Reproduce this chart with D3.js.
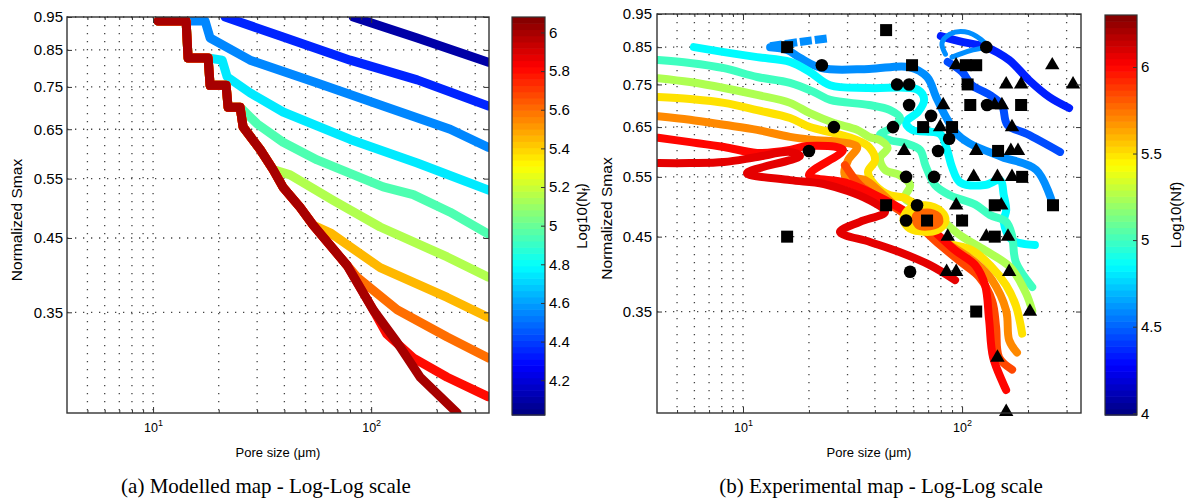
<!DOCTYPE html>
<html>
<head>
<meta charset="utf-8">
<script src="https://cdn.jsdelivr.net/npm/d3@7"></script>
<style>
  body { margin: 0; background: #fff; }
  svg { display: block; }
  text { font-family: "Liberation Sans", Arial, sans-serif; fill: #000; }
  .tick text { font-family: "Liberation Sans", Arial, sans-serif; font-size: 15px; }
  .xmajor .tick text { font-size: 12.5px; }
  .tick line { stroke: #333; }
  .grid { stroke: #444; stroke-width: 1.3; stroke-dasharray: 1.3 6.7; }
  .caption { font-family: "Liberation Serif", "Times New Roman", serif; font-size: 21px; }
</style>
</head>
<body>
<svg width="1187" height="501"></svg>
<script>
// shared axis values
var xMajor = [10, 100];
var xMinor = [5, 6, 7, 8, 9, 20, 30, 40, 50, 60, 70, 80, 90, 200, 300];
var yTicks = [0.35, 0.45, 0.55, 0.65, 0.75, 0.85, 0.95];

// (a) modelled map: common staircase edge, then one tail per level
var modelValues = [4.1, 4.35, 4.55, 4.75, 4.95, 5.15, 5.45, 5.6, 5.8, 6.0];
var modelBarTicks = [4.2, 4.4, 4.6, 4.8, 5, 5.2, 5.4, 5.6, 5.8, 6];
var modelEnvelope = [[10.54, 0.937], [14.17, 0.937], [14.47, 0.827], [17.88, 0.827], [18.26, 0.754],
  [21.62, 0.754], [22.08, 0.700], [25.07, 0.700], [25.87, 0.655], [30.97, 0.607], [35.52, 0.567],
  [39.47, 0.534], [47.24, 0.499], [54.2, 0.470], [77.62, 0.410], [102.1, 0.353], [131.6, 0.316],
  [167.8, 0.281], [248, 0.249]];
var modelSplit = [0, 0, 2, 4, 8, 11, 14, 15, 16, 19];
var modelTails = [
  [[82.7, 0.95], [162.6, 0.885], [345, 0.815]],
  [[21.39, 0.95], [39.47, 0.888], [80.12, 0.821], [162.6, 0.768], [345, 0.703]],
  [[17.32, 0.937], [18.26, 0.885], [27.86, 0.821], [56.54, 0.760], [113.5, 0.703], [230.3, 0.650], [345, 0.611]],
  [[20.73, 0.821], [21.85, 0.776], [27.86, 0.735], [39.47, 0.689], [80.12, 0.628], [162.6, 0.580], [345, 0.529]],
  [[30.0, 0.662], [39.47, 0.622], [56.54, 0.586], [113.5, 0.535], [155.9, 0.521], [230.3, 0.491], [345, 0.456]],
  [[42.5, 0.557], [66.95, 0.511], [110, 0.467], [223.2, 0.422], [345, 0.394]],
  [[64.87, 0.458], [110, 0.407], [223.2, 0.368], [345, 0.344]],
  [[86.28, 0.394], [131.6, 0.353], [223.2, 0.322], [345, 0.300]],
  [[118, 0.325], [155.9, 0.300], [223.2, 0.281], [345, 0.263]],
  []
];

// (b) experimental map: contour lines
var expBarTicks = [4, 4.5, 5, 5.5, 6];
var expNavy = [[80, 0.882], [100, 0.865], [129, 0.85], [164, 0.814], [202, 0.761], [250, 0.719], [308, 0.693]];
var expBlueInner = [[86, 0.809], [100, 0.782], [111, 0.748], [134, 0.724], [152, 0.70], [161, 0.655], [198, 0.635], [280, 0.598]];
var expBlueLoop = [[84, 0.83], [81, 0.862], [88, 0.888], [103, 0.895], [122, 0.872], [129, 0.853], [109, 0.84], [90, 0.822]];
var expBlueOuter = [[13.3, 0.85], [15.9, 0.842], [18.2, 0.82], [22.9, 0.792], [37.6, 0.79], [57.3, 0.795], [69.2, 0.769],
  [76.1, 0.719], [84.5, 0.672], [93.9, 0.637], [107.6, 0.616], [152, 0.588], [218, 0.563], [260, 0.501]];
var expBlueDash = [[13.3, 0.853], [18.2, 0.865], [24.7, 0.876]];
var expCyan = [[5.97, 0.85], [8.19, 0.836], [11.6, 0.822], [16.4, 0.809], [20.2, 0.782], [25, 0.748], [37.6, 0.741],
  [63, 0.736], [67.1, 0.712], [63, 0.684], [55.5, 0.661], [59.1, 0.644], [79.4, 0.635], [85.4, 0.602], [90, 0.568],
  [97.9, 0.540], [127, 0.535], [149, 0.544], [155, 0.517], [159, 0.492], [155, 0.473], [169, 0.445], [215, 0.4375]];
var expTeal = [[4.1, 0.814], [5.73, 0.806], [8.19, 0.792], [11.6, 0.769], [16.4, 0.754], [21.1, 0.731], [25, 0.712],
  [37.6, 0.700], [46.9, 0.688], [52.1, 0.670], [48.4, 0.650], [42.2, 0.633], [46.9, 0.622], [54.9, 0.616], [64.3, 0.602],
  [68, 0.572], [75.3, 0.535], [88, 0.517], [115, 0.501], [134, 0.484], [159, 0.473], [169, 0.452], [176, 0.413], [209, 0.380]];
var expGreen = [[4.1, 0.766], [5.73, 0.756], [8.19, 0.741], [11.6, 0.724], [16.4, 0.705], [20.2, 0.681], [26, 0.659],
  [33.2, 0.644], [37.6, 0.629], [42.2, 0.622], [45.7, 0.606], [42.2, 0.586], [44.5, 0.563], [52.1, 0.553], [57.9, 0.535],
  [54.9, 0.512], [71.4, 0.492], [98, 0.452], [127, 0.430], [166, 0.406], [196, 0.372], [209, 0.351]];
var expYellow = [[4.1, 0.719], [5.73, 0.714], [8.19, 0.705], [11.6, 0.688], [16.4, 0.670], [20.2, 0.650], [26, 0.637],
  [33.2, 0.622], [37.6, 0.608], [40.1, 0.582], [37.2, 0.559], [40.1, 0.535], [46.9, 0.517], [54.9, 0.512], [68, 0.484],
  [79.4, 0.445], [111, 0.430], [134, 0.409], [159, 0.382], [176, 0.357], [188, 0.325]];
var expOrange = [[4.1, 0.674], [5.73, 0.666], [8.19, 0.655], [11.6, 0.644], [16.4, 0.629], [21.8, 0.622], [27.7, 0.618],
  [33.2, 0.608], [30.2, 0.582], [29.2, 0.553], [36.1, 0.544], [42.2, 0.523], [52.1, 0.492], [71.4, 0.457], [88, 0.4375],
  [116, 0.412], [137, 0.389], [159, 0.351], [164, 0.318], [178, 0.305]];
var expRedOrange = [[29.2, 0.572], [34.2, 0.535], [42.2, 0.512], [57.9, 0.479], [79.4, 0.4375], [100, 0.412],
  [119.6, 0.393], [137.1, 0.363], [143, 0.332], [147.6, 0.300], [169.2, 0.288]];
var expRed = [[4.1, 0.627], [5.73, 0.618], [8.19, 0.608], [11.6, 0.596], [16.4, 0.602], [19.6, 0.610], [28.6, 0.602],
  [20, 0.553], [29.2, 0.540], [37.6, 0.523], [52.1, 0.495], [71.4, 0.463], [92.9, 0.430], [114.7, 0.409], [127.4, 0.382],
  [132.9, 0.340], [138.6, 0.300], [158.8, 0.269]];
var expDarkRed = [[4.1, 0.576], [5.73, 0.576], [8.19, 0.578], [11.6, 0.588], [16.4, 0.598], [18.2, 0.590], [10.43, 0.557],
  [16.4, 0.544], [23.4, 0.537], [37.6, 0.509], [44.5, 0.489], [34.2, 0.473], [27.7, 0.457], [38, 0.442], [52.1, 0.427],
  [71.4, 0.409], [92.9, 0.389]];
var expYellowBubble = [[54, 0.478], [58, 0.495], [67.8, 0.500], [80, 0.490], [84, 0.474], [77, 0.460], [64.3, 0.458], [56.5, 0.465]];
var expOrangeBubble = [[61.5, 0.482], [69.2, 0.488], [77.5, 0.482], [78.5, 0.472], [71.4, 0.466], [63, 0.468]];

var expSquares = [[15.9, 0.85], [15.9, 0.45], [45, 0.90], [45, 0.50], [59.1, 0.80], [104, 0.80], [116, 0.80], [106, 0.75],
  [109, 0.70], [186, 0.70], [66.4, 0.65], [90, 0.65], [146, 0.60], [188, 0.55], [141, 0.50], [260, 0.50], [69.2, 0.475],
  [100, 0.475], [141, 0.45], [116, 0.35]];
var expCircles = [[22.9, 0.80], [50.5, 0.75], [57.3, 0.75], [26, 0.65], [48.4, 0.65], [20, 0.60], [57.3, 0.70], [72.2, 0.675],
  [129, 0.85], [87.3, 0.625], [77.7, 0.60], [55.5, 0.55], [74.5, 0.55], [62.3, 0.50], [55.5, 0.475], [57.9, 0.40], [130, 0.70]];
var expTriangles = [[93.9, 0.80], [258, 0.80], [159, 0.75], [186, 0.75], [321, 0.75], [82, 0.70], [141, 0.70], [152, 0.70],
  [79.4, 0.65], [169, 0.65], [54.4, 0.60], [116, 0.60], [167, 0.60], [180, 0.60], [113, 0.55], [145, 0.55], [169, 0.55],
  [94, 0.50], [151, 0.50], [86, 0.45], [129, 0.45], [162, 0.45], [85, 0.40], [94, 0.40], [164, 0.40], [204, 0.35],
  [145, 0.30], [159, 0.25]];

(function(d3) {
  "use strict";

  var svg = d3.select("svg");

  // matlab style jet colormap, t in [0, 1]
  function jet(t) {
    t = Math.max(0, Math.min(1, t));
    function ch(c) {
      return Math.round(255 * Math.max(0, Math.min(1, 1.5 - Math.abs(4 * t - c))));
    }
    return d3.rgb(ch(3), ch(2), ch(1)).toString();
  }

  var modelLines = modelValues.map(function(v, i) {
    return { value: v, points: modelEnvelope.slice(0, modelSplit[i]).concat(modelTails[i]) };
  });

  var expLines = [
    { value: 4.35, points: expNavy },
    { value: 4.45, points: expBlueInner },
    { value: 4.6, points: expBlueLoop, width: 5 },
    { value: 4.6, points: expBlueOuter },
    { value: 4.6, points: expBlueDash, dash: "12 3" },
    { value: 4.85, points: expCyan },
    { value: 5.0, points: expTeal },
    { value: 5.25, points: expGreen },
    { value: 5.5, points: expYellow },
    { value: 5.7, points: expOrange },
    { value: 5.85, points: expRedOrange },
    { value: 6.0, points: expRed },
    { value: 6.07, points: expDarkRed },
    { value: 5.5, points: expYellowBubble, closed: true },
    { value: 5.78, points: expOrangeBubble, closed: true }
  ];

  drawPanel({
    id: "modelled",
    left: 67, right: 489, top: 17, bottom: 413,
    xDomain: [4.03, 347], yDomain: [0.249, 0.95],
    lines: modelLines, lineWidth: 9, curve: d3.curveLinear,
    yPad: 4,
    bar: { x: 512, w: 33, top: 17, bottom: 415, domain: [4.02, 6.08], ticks: modelBarTicks },
    barLabel: ["Log10(N", "f", ")"], barLabelX: 587,
    caption: "(a) Modelled map - Log-Log scale", captionX: 266
  });

  drawPanel({
    id: "experimental",
    left: 657, right: 1081, top: 14, bottom: 413,
    xDomain: [4.05, 349], yDomain: [0.249, 0.95],
    lines: expLines, lineWidth: 8, curve: d3.curveCatmullRom.alpha(0.5),
    yPad: 5,
    bar: { x: 1105, w: 32, top: 15, bottom: 415, domain: [3.99, 6.3], ticks: expBarTicks },
    barLabel: ["Log10(Nf)"], barLabelX: 1181,
    caption: "(b) Experimental map - Log-Log scale", captionX: 881,
    markers: true
  });

  function drawPanel(cfg) {
    var x = d3.scaleLog().domain(cfg.xDomain).range([cfg.left, cfg.right]);
    var y = d3.scaleLog().domain(cfg.yDomain).range([cfg.bottom, cfg.top]);
    var level = d3.scaleLinear().domain(cfg.bar.domain).range([0, 1]);

    var g = svg.append("g").attr("class", cfg.id);

    // dotted grid
    g.append("g").selectAll("line")
        .data(xMajor.concat(xMinor))
      .enter().append("line")
        .attr("class", "grid")
        .attr("x1", x).attr("x2", x)
        .attr("y1", cfg.top).attr("y2", cfg.bottom);

    g.append("g").selectAll("line")
        .data(yTicks)
      .enter().append("line")
        .attr("class", "grid")
        .attr("x1", cfg.left).attr("x2", cfg.right)
        .attr("y1", y).attr("y2", y);

    g.append("clipPath")
        .attr("id", cfg.id + "-clip")
      .append("rect")
        .attr("x", cfg.left).attr("y", cfg.top)
        .attr("width", cfg.right - cfg.left)
        .attr("height", cfg.bottom - cfg.top);

    var line = d3.line()
        .x(function(d) { return x(d[0]); })
        .y(function(d) { return y(d[1]); })
        .curve(cfg.curve);

    var closedLine = d3.line()
        .x(function(d) { return x(d[0]); })
        .y(function(d) { return y(d[1]); })
        .curve(d3.curveCatmullRomClosed);

    g.append("g")
        .attr("clip-path", "url(#" + cfg.id + "-clip)")
      .selectAll("path")
        .data(cfg.lines)
      .enter().append("path")
        .attr("d", function(d) { return d.closed ? closedLine(d.points) : line(d.points); })
        .attr("fill", function(d) { return d.closed ? jet(level(d.value)) : "none"; })
        .attr("stroke", function(d) { return jet(level(d.value)); })
        .attr("stroke-width", function(d) { return d.width || cfg.lineWidth; })
        .attr("stroke-linejoin", "round")
        .attr("stroke-linecap", function(d) { return d.dash ? "butt" : "round"; })
        .attr("stroke-dasharray", function(d) { return d.dash || null; });

    if (cfg.markers) {
      var mk = g.append("g").attr("fill", "#000");
      mk.selectAll(".sq")
          .data(expSquares)
        .enter().append("rect")
          .attr("x", function(d) { return x(d[0]) - 6; })
          .attr("y", function(d) { return y(d[1]) - 6; })
          .attr("width", 12).attr("height", 12);
      mk.selectAll(".ci")
          .data(expCircles)
        .enter().append("circle")
          .attr("cx", function(d) { return x(d[0]); })
          .attr("cy", function(d) { return y(d[1]); })
          .attr("r", 6.3);
      mk.selectAll(".tri")
          .data(expTriangles)
        .enter().append("path")
          .attr("d", d3.symbol(d3.symbolTriangle, 90))
          .attr("transform", function(d) { return "translate(" + x(d[0]) + "," + y(d[1]) + ")"; });
    }

    // axes, matlab box style with inward ticks
    function clean(sel) { sel.select(".domain").remove(); }

    g.append("g")
        .attr("transform", "translate(" + cfg.left + ",0)")
        .call(d3.axisLeft(y).tickValues(yTicks).tickSize(-5).tickPadding(cfg.yPad).tickFormat(d3.format(".2f")))
        .call(clean);

    g.append("g")
        .attr("transform", "translate(" + cfg.right + ",0)")
        .call(d3.axisRight(y).tickValues(yTicks).tickSize(-5).tickFormat(""))
        .call(clean);

    var xa = g.append("g")
        .attr("class", "xmajor")
        .attr("transform", "translate(0," + cfg.bottom + ")")
        .call(d3.axisBottom(x).tickValues(xMajor).tickSize(-6).tickPadding(10).tickFormat(""))
        .call(clean);

    xa.selectAll(".tick text").each(function(d) {
      var t = d3.select(this);
      t.append("tspan").text("10");
      t.append("tspan")
          .attr("dy", "-0.6em")
          .style("font-size", "9px")
          .text(Math.round(Math.log10(d)));
    });

    g.append("g")
        .attr("transform", "translate(0," + cfg.bottom + ")")
        .call(d3.axisBottom(x).tickValues(xMinor).tickSize(-3).tickFormat(""))
        .call(clean);

    g.append("g")
        .attr("transform", "translate(0," + cfg.top + ")")
        .call(d3.axisTop(x).tickValues(xMajor).tickSize(-6).tickFormat(""))
        .call(clean);

    g.append("g")
        .attr("transform", "translate(0," + cfg.top + ")")
        .call(d3.axisTop(x).tickValues(xMinor).tickSize(-3).tickFormat(""))
        .call(clean);

    g.append("rect")
        .attr("x", cfg.left).attr("y", cfg.top)
        .attr("width", cfg.right - cfg.left)
        .attr("height", cfg.bottom - cfg.top)
        .attr("fill", "none")
        .attr("stroke", "#333")
        .attr("stroke-width", 1.4);

    g.append("text")
        .attr("transform", "translate(" + (cfg.left - 45) + "," + ((cfg.top + cfg.bottom) / 2 + 5) + ") rotate(-90)")
        .attr("text-anchor", "middle")
        .style("font-size", "15.5px")
        .text("Normalized Smax");

    g.append("text")
        .attr("x", (cfg.left + cfg.right) / 2)
        .attr("y", cfg.bottom + 44)
        .attr("text-anchor", "middle")
        .style("font-size", "13px")
        .text("Pore size (\u03bcm)");

    // colorbar
    var b = cfg.bar;
    var cy = d3.scaleLinear().domain(b.domain).range([b.bottom, b.top]);
    var bandH = (b.bottom - b.top) / 64;

    g.append("g").selectAll("rect")
        .data(d3.range(64))
      .enter().append("rect")
        .attr("x", b.x)
        .attr("width", b.w)
        .attr("y", function(i) { return b.bottom - (i + 1) * bandH; })
        .attr("height", bandH + 0.6)
        .attr("fill", function(i) { return jet((i + 0.5) / 64); });

    g.append("rect")
        .attr("x", b.x).attr("y", b.top)
        .attr("width", b.w).attr("height", b.bottom - b.top)
        .attr("fill", "none")
        .attr("stroke", "#333")
        .attr("stroke-width", 1.2);

    g.append("g")
        .attr("transform", "translate(" + (b.x + b.w) + ",0)")
        .call(d3.axisRight(cy).tickValues(b.ticks).tickSize(-4).tickPadding(4).tickFormat(d3.format("~g")))
        .call(clean);

    var lab = g.append("text")
        .attr("transform", "translate(" + cfg.barLabelX + "," + ((b.top + b.bottom) / 2) + ") rotate(-90)")
        .attr("text-anchor", "middle")
        .style("font-size", "15px");
    lab.append("tspan").text(cfg.barLabel[0]);
    if (cfg.barLabel.length > 1) {
      lab.append("tspan").attr("dy", "0.3em").style("font-size", "11px").text(cfg.barLabel[1]);
      lab.append("tspan").attr("dy", "-0.3em").text(cfg.barLabel[2]);
    }

    g.append("text")
        .attr("class", "caption")
        .attr("x", cfg.captionX)
        .attr("y", 493)
        .attr("text-anchor", "middle")
        .text(cfg.caption);
  }

}(d3));
</script>
</body>
</html>
